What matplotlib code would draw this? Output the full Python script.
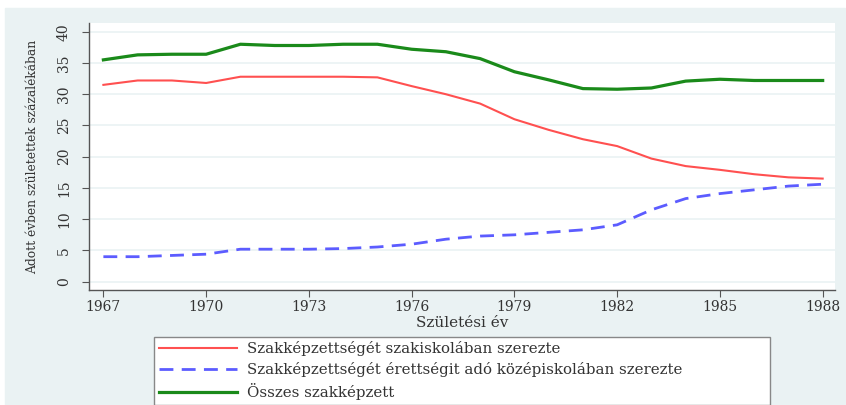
import matplotlib
matplotlib.use("Agg")
import matplotlib.pyplot as plt
from matplotlib.patches import Rectangle

# birth years and shares (% of cohort)
years = list(range(1967, 1989))
szakiskola = [31.5, 32.2, 32.2, 31.8, 32.8, 32.8, 32.8, 32.8, 32.7, 31.3, 30.0,
              28.5, 26.0, 24.3, 22.8, 21.7, 19.7, 18.5, 17.9, 17.2, 16.7, 16.5]
erettsegi = [4.0, 4.0, 4.2, 4.4, 5.2, 5.2, 5.2, 5.3, 5.55, 6.0, 6.8,
             7.3, 7.5, 7.9, 8.3, 9.1, 11.5, 13.3, 14.1, 14.7, 15.3, 15.6]
osszes = [35.5, 36.3, 36.4, 36.4, 38.0, 37.8, 37.8, 38.0, 38.0, 37.2, 36.8,
          35.7, 33.6, 32.3, 30.9, 30.8, 31.0, 32.1, 32.4, 32.2, 32.2, 32.2]
labels = ["Szakképzettségét szakiskolában szerezte",
          "Szakképzettségét érettségit adó középiskolában szerezte",
          "Összes szakképzett"]
xticks = [1967, 1970, 1973, 1976, 1979, 1982, 1985, 1988]
yticks = [0, 5, 10, 15, 20, 25, 30, 35, 40]

plt.rcParams["font.family"] = ["DejaVu Serif"]
bg = "#eaf2f3"
W, H = 846, 405

fig = plt.figure(figsize=(W / 100, H / 100), dpi=100, facecolor="white")
fig.patches.append(Rectangle((5 / W, 0), 840 / W, (H - 8) / H,
                             transform=fig.transFigure, color=bg, zorder=-5))

ax = fig.add_axes([89 / W, (H - 290) / H, (835 - 89) / W, (290 - 23) / H])
ax.set_facecolor("white")
for y in yticks:
    ax.axhline(y, color=bg, lw=1.2, zorder=1)

ax.plot(years, szakiskola, color="#ff5050", lw=1.5, label=labels[0], zorder=3)
ax.plot(years, erettsegi, color="#5c5cff", lw=2.0, dashes=(5, 3),
        label=labels[1], zorder=3)
ax.plot(years, osszes, color="#1a8a1a", lw=2.3, label=labels[2], zorder=3)

ax.set_xlim(1966.58, 1988.36)
ax.set_ylim(-1.33, 41.4)
ax.set_xticks(xticks)
ax.set_yticks(yticks)
ax.tick_params(axis="both", labelsize=10, color="#555555", length=5,
               labelcolor="#333333")
ax.tick_params(axis="y", pad=8)
ax.tick_params(axis="x", pad=2)
for t in ax.get_yticklabels():
    t.set_rotation(90)
    t.set_va("center")
for s in ["top", "right"]:
    ax.spines[s].set_visible(False)
for s in ["left", "bottom"]:
    ax.spines[s].set_color("#555555")
    ax.spines[s].set_linewidth(1.0)

ax.set_xlabel("Születési év", fontsize=11, color="#333333", va="center")
ax.xaxis.set_label_coords(0.5, -(323 - 290) / (290 - 23))
ax.set_ylabel("Adott évben születettek százalékában", fontsize=8.8,
              color="#333333")
ax.yaxis.set_label_coords(-(89 - 39) / (835 - 89), 0.5)

leg = fig.legend(loc="upper left",
                 bbox_to_anchor=(154 / W, (H - 337) / H, (770 - 154) / W, 0.001),
                 mode="expand", fontsize=10.8, handlelength=5.2,
                 frameon=True, fancybox=False, borderpad=0.3, framealpha=1,
                 labelspacing=0.4, handletextpad=0.7, borderaxespad=0)
leg.get_frame().set_edgecolor("#888888")
leg.get_frame().set_facecolor("white")
leg.get_frame().set_linewidth(1.0)
for t in leg.get_texts():
    t.set_color("#333333")

fig.savefig("out.png", dpi=100, facecolor=fig.get_facecolor())
